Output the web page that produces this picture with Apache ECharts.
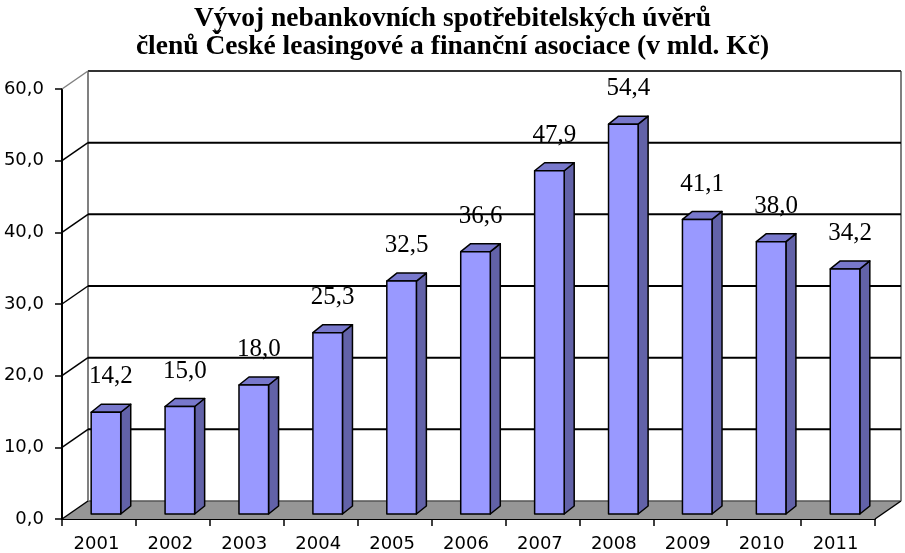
<!DOCTYPE html>
<html>
<head>
<meta charset="utf-8">
<script src="https://cdn.jsdelivr.net/npm/echarts@6/dist/echarts.min.js"></script>
<style>
html,body{margin:0;padding:0;background:#fff;}
#chart{width:905px;height:553px;}
</style>
</head>
<body>
<div id="chart"></div>
<script>
const titleLines = ['Vývoj nebankovních spotřebitelských úvěrů', 'členů České leasingové a finanční asociace (v mld. Kč)'];
const categories = ['2001','2002','2003','2004','2005','2006','2007','2008','2009','2010','2011'];
const values = [14.2, 15.0, 18.0, 25.3, 32.5, 36.6, 47.9, 54.4, 41.1, 38.0, 34.2];
const yTicks = [0, 10, 20, 30, 40, 50, 60];

const fmt = v => v.toFixed(1).replace('.', ',');

// 3D style constants (pixels)
const WALL_DX = 26, WALL_DY = -18;   // depth of back wall
const OX = 7, OY = -5;               // bar front face offset into depth
const BDX = 10, BDY = -8;            // bar depth
const HALF = 0.2;                    // half bar width as fraction of band

const chart = echarts.init(document.getElementById('chart'), null, {renderer: 'canvas'});

function renderFrame(params, api) {
  const cs = params.coordSys;
  const left = cs.x, right = cs.x + cs.width;
  const y0 = api.coord([0, 0])[1];
  const children = [];
  children.push({
    type: 'polygon',
    shape: {points: [[left, y0], [left + WALL_DX, y0 + WALL_DY], [right + WALL_DX, y0 + WALL_DY], [right, y0]]},
    style: {fill: '#969696', stroke: null}
  });
  children.push({type: 'line', shape: {x1: left + WALL_DX, y1: y0 + WALL_DY, x2: right + WALL_DX, y2: y0 + WALL_DY},
    style: {stroke: '#555', lineWidth: 1.5}});
  const yTop = api.coord([0, yTicks[yTicks.length - 1]])[1];
  children.push({type: 'line', shape: {x1: left + WALL_DX, y1: yTop + WALL_DY, x2: left + WALL_DX, y2: y0 + WALL_DY},
    style: {stroke: '#808080', lineWidth: 2}});
  children.push({type: 'line', shape: {x1: right + WALL_DX, y1: yTop + WALL_DY, x2: right + WALL_DX, y2: y0 + WALL_DY},
    style: {stroke: '#808080', lineWidth: 2}});
  yTicks.forEach((t, k) => {
    const y = api.coord([0, t])[1];
    const isTop = k === yTicks.length - 1;
    const isBottom = k === 0;
    if (!isBottom) {
      children.push({type: 'line', shape: {x1: left + WALL_DX, y1: y + WALL_DY, x2: right + WALL_DX, y2: y + WALL_DY},
        style: {stroke: isTop ? '#333' : '#000', lineWidth: 2}});
    }
    children.push({type: 'line', shape: {x1: left, y1: y, x2: left + WALL_DX, y2: y + WALL_DY},
      style: {stroke: isTop ? '#808080' : '#000', lineWidth: 1.5}});
  });
  children.push({type: 'line', shape: {x1: right, y1: y0, x2: right + WALL_DX, y2: y0 + WALL_DY},
    style: {stroke: '#000', lineWidth: 1.5}});
  return {type: 'group', children: children};
}

function renderBar(params, api) {
  const i = api.value(0), v = api.value(1);
  const p0 = api.coord([i, 0]);
  const p1 = api.coord([i, v]);
  const bw = api.size([1, 0])[0];
  const hw = bw * HALF;
  const xl = p0[0] + OX - hw, xr = p0[0] + OX + hw;
  const yb = p0[1] + OY, yt = p1[1] + OY;
  const st = {stroke: '#000', lineWidth: 1.5, lineJoin: 'round'};
  return {
    type: 'group',
    children: [
      {type: 'polygon', shape: {points: [[xr, yt], [xr + BDX, yt + BDY], [xr + BDX, yb + BDY], [xr, yb]]},
        style: Object.assign({fill: '#6262A8'}, st)},
      {type: 'polygon', shape: {points: [[xl, yt], [xl + BDX, yt + BDY], [xr + BDX, yt + BDY], [xr, yt]]},
        style: Object.assign({fill: '#7878CC'}, st)},
      {type: 'rect', shape: {x: xl, y: yt, width: xr - xl, height: yb - yt},
        style: Object.assign({fill: '#9999FF'}, st)},
      {type: 'text', style: {text: fmt(v), x: p0[0] + OX + BDX / 2, y: yt + BDY - 15,
        align: 'center', verticalAlign: 'bottom', fontFamily: 'Liberation Serif', fontSize: 25, fill: '#000'}}
    ]
  };
}

chart.setOption({
  animation: false,
  backgroundColor: '#fff',
  title: {
    text: titleLines.join('\n'),
    left: 'center',
    top: 0,
    textStyle: {fontFamily: 'Liberation Serif', fontWeight: 'bold', fontSize: 27.5, lineHeight: 28, color: '#000'}
  },
  grid: {left: 62, right: 30, top: 89, bottom: 33, containLabel: false},
  xAxis: {
    type: 'category',
    data: categories,
    axisLine: {show: true, lineStyle: {color: '#000', width: 2}},
    axisTick: {show: true, length: 7, lineStyle: {color: '#000', width: 1.5}},
    axisLabel: {fontFamily: 'DejaVu Sans', fontSize: 18, color: '#000', margin: 16, padding: [0, 5, 0, 0]},
    splitLine: {show: false}
  },
  yAxis: {
    type: 'value',
    min: 0, max: 60, interval: 10,
    axisLine: {show: true, lineStyle: {color: '#000', width: 2}},
    axisTick: {show: true, length: 7, lineStyle: {color: '#000', width: 1.5}},
    axisLabel: {fontFamily: 'DejaVu Sans', fontSize: 18, color: '#000', margin: 18,
      formatter: v => fmt(v)},
    splitLine: {show: false}
  },
  series: [
    {type: 'custom', renderItem: renderFrame, data: [[0, 0]], clip: false, z: 1, silent: true},
    {type: 'custom', renderItem: renderBar, data: values.map((v, i) => [i, v]), clip: false, z: 3, silent: true}
  ]
});
</script>
</body>
</html>
